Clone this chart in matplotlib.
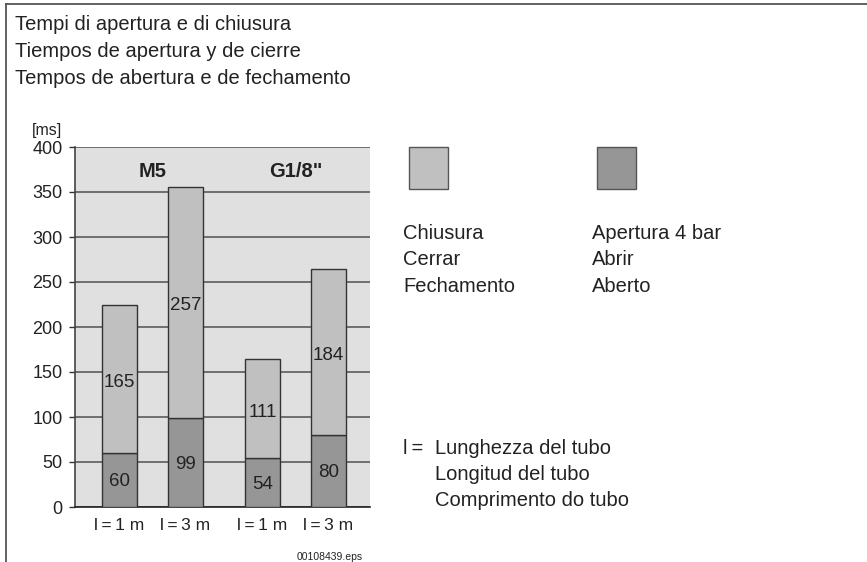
import matplotlib.pyplot as plt
from matplotlib.lines import Line2D
from matplotlib.patches import Rectangle

plt.rcParams["font.family"] = ["Liberation Sans", "DejaVu Sans"]

# data
positions = [0, 1, 2.167, 3.167]
tick_labels = ["l\u2009=\u20091 m", "l\u2009=\u20093 m", "l\u2009=\u20091 m", "l\u2009=\u20093 m"]
opening = [60, 99, 54, 80]        # Apertura 4 bar
closing = [165, 257, 111, 184]    # Chiusura
groups = ["M5", "G1/8\""]
yticks = [0, 50, 100, 150, 200, 250, 300, 350, 400]

title_lines = ["Tempi di apertura e di chiusura",
               "Tiempos de apertura y de cierre",
               "Tempos de abertura e de fechamento"]
legend_close = ["Chiusura", "Cerrar", "Fechamento"]
legend_open = ["Apertura 4 bar", "Abrir", "Aberto"]
length_note = ["Lunghezza del tubo", "Longitud del tubo", "Comprimento do tubo"]

LIGHT = "#c0c0c0"
DARK = "#969696"
BG = "#e0e0e0"
TXT = "#222222"

W, H = 867, 562
fig = plt.figure(figsize=(W / 100, H / 100), dpi=100)


def fx(x):
    return x / W


def fy(y):
    return 1 - y / H


ax = fig.add_axes([fx(75), fy(507), fx(370) - fx(75), fy(147) - fy(507)])
ax.set_facecolor(BG)
ax.set_axisbelow(True)

width = 0.53
ax.bar(positions, opening, width=width, color=DARK, edgecolor="#333333", linewidth=1.0, zorder=3)
ax.bar(positions, closing, width=width, bottom=opening, color=LIGHT, edgecolor="#333333",
       linewidth=1.0, zorder=3)

for x, o, c in zip(positions, opening, closing):
    ax.text(x, o / 2 - 2, str(o), ha="center", va="center", fontsize=13.5, color=TXT, zorder=4)
    ax.text(x, o + c / 2 - 4, str(c), ha="center", va="center", fontsize=13.5, color=TXT, zorder=4)

for i, g in enumerate(groups):
    gx = (positions[2 * i] + positions[2 * i + 1]) / 2
    ax.text(gx, 373, g, ha="center", va="center", fontsize=14.5, fontweight="bold", color=TXT)

ax.set_xlim(-0.674, 3.795)
ax.set_ylim(0, 400)
ax.set_yticks(yticks)
ax.set_xticks(positions)
ax.set_xticklabels(tick_labels)
ax.yaxis.grid(True, color="#666666", linewidth=1.3)
ax.tick_params(axis="y", length=4, width=1, color="#333333", pad=5, labelsize=13, labelcolor=TXT)
ax.tick_params(axis="x", length=0, pad=8, labelsize=12.5, labelcolor=TXT)
for s in ["top", "right"]:
    ax.spines[s].set_visible(False)
ax.spines["left"].set_color("#444444")
ax.spines["bottom"].set_color("#222222")
ax.spines["left"].set_linewidth(1.2)
ax.spines["bottom"].set_linewidth(1.2)

fig.text(fx(32), fy(131), "[ms]", ha="left", va="center", fontsize=11.5, color=TXT)

# title block
for i, line in enumerate(title_lines):
    fig.text(fx(15), fy(25 + 26.5 * i), line, ha="left", va="center", fontsize=14.5, color=TXT)

# legend squares and text
fig.add_artist(Rectangle((fx(409), fy(189)), fx(448) - fx(409), fy(147) - fy(189),
                         facecolor=LIGHT, edgecolor="#555555", linewidth=1.0))
fig.add_artist(Rectangle((fx(597), fy(189)), fx(636) - fx(597), fy(147) - fy(189),
                         facecolor=DARK, edgecolor="#555555", linewidth=1.0))
for i, (a, b) in enumerate(zip(legend_close, legend_open)):
    fig.text(fx(403), fy(233 + 26.5 * i), a, ha="left", va="center", fontsize=14.5, color=TXT)
    fig.text(fx(592), fy(233 + 26.5 * i), b, ha="left", va="center", fontsize=14.5, color=TXT)

fig.text(fx(403), fy(449), "l\u2009=", ha="left", va="center", fontsize=14.5, color=TXT)
for i, line in enumerate(length_note):
    fig.text(fx(435), fy(449 + 25.5 * i), line, ha="left", va="center", fontsize=14.5, color=TXT)

fig.text(fx(297), fy(557), "00108439.eps", ha="left", va="center", fontsize=7.5, color=TXT)

# outer frame (top and left only)
fig.add_artist(Line2D([fx(6), 1], [fy(4), fy(4)], color="#555555", linewidth=1.3))
fig.add_artist(Line2D([fx(6), fx(6)], [0, fy(4)], color="#555555", linewidth=1.3))

fig.savefig("out.png", dpi=100)
